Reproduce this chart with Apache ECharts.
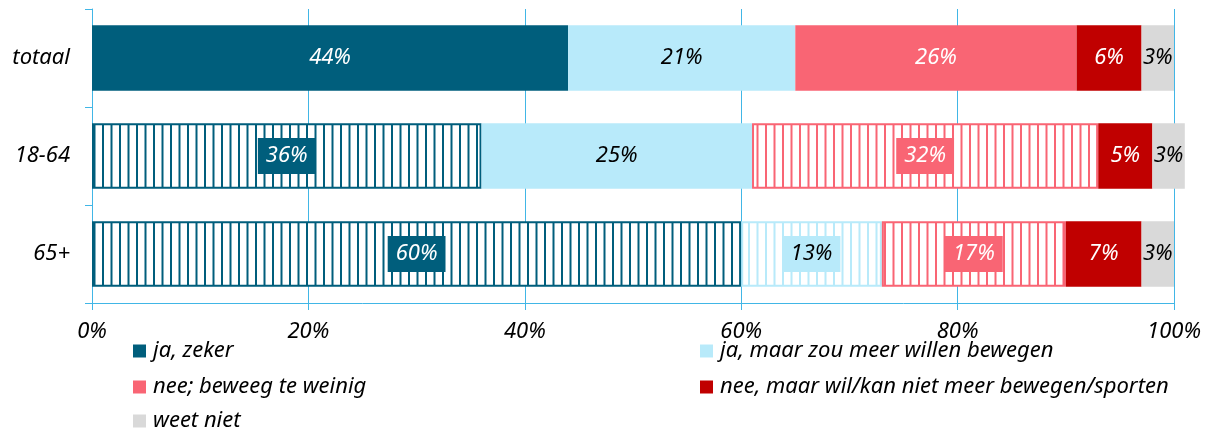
<!DOCTYPE html>
<html>
<head>
<meta charset="utf-8">
<script src="https://cdn.jsdelivr.net/npm/echarts@6/dist/echarts.min.js"></script>
<style>html,body{margin:0;padding:0;background:#fff;}#c{width:1205px;height:435px;}</style>
</head>
<body>
<div id="c"></div>
<script>
const categories = ['totaal', '18-64', '65+'];
const seriesNames = ['ja, zeker', 'ja, maar zou meer willen bewegen', 'nee; beweeg te weinig', 'nee, maar wil/kan niet meer bewegen/sporten', 'weet niet'];
const jaZeker = [44, 36, 60];
const jaMaar = [21, 25, 13];
const neeWeinig = [26, 32, 17];
const neeNiet = [6, 5, 7];
const weetNiet = [3, 3, 3];
// hatched (pattern) marks per series, per category
const hatchJaZeker = [false, true, true];
const hatchJaMaar = [false, false, true];
const hatchNeeWeinig = [false, true, true];
const hatchNeeNiet = [false, false, false];
const hatchWeetNiet = [false, false, false];
const xTicks = [0, 20, 40, 60, 80, 100];

const colors = ['#005E7C', '#B8EAFA', '#F96574', '#C00000', '#D9D9D9'];
const labelColors = ['#fff', '#000', '#fff', '#fff', '#000'];
const FONT = 'Noto Sans';
const FS = 22;

function stripes(color) {
  const c = document.createElement('canvas');
  c.width = 17; c.height = 10;
  const g = c.getContext('2d');
  g.fillStyle = '#fff'; g.fillRect(0, 0, 17, 10);
  g.fillStyle = color;
  g.fillRect(0, 0, 2, 10);
  g.fillRect(8.5, 0, 2, 10);
  return { image: c, repeat: 'repeat' };
}

const allValues = [jaZeker, jaMaar, neeWeinig, neeNiet, weetNiet];
const allHatch = [hatchJaZeker, hatchJaMaar, hatchNeeWeinig, hatchNeeNiet, hatchWeetNiet];

const series = allValues.map((vals, si) => ({
  name: seriesNames[si],
  type: 'bar',
  stack: 'total',
  barCategoryGap: '33%',
  clip: false,
  itemStyle: { color: colors[si] },
  label: {
    show: true, position: 'inside', formatter: '{c}%',
    color: labelColors[si], fontFamily: FONT, fontStyle: 'italic', fontSize: FS
  },
  data: vals.map((v, ci) => allHatch[si][ci] ? {
    value: v,
    itemStyle: { color: stripes(colors[si]), borderColor: colors[si], borderWidth: 2 },
    label: { backgroundColor: colors[si], padding: [8, 8, 6, 8] }
  } : { value: v })
}));

const legendTop = [340, 376, 410];
const legendLeft = [133, 700];
const legends = seriesNames.map((n, i) => ({
  data: [n], left: legendLeft[i % 2], top: legendTop[Math.floor(i / 2)],
  itemWidth: 13, itemHeight: 13, itemGap: 5, icon: 'rect', padding: 0,
  textStyle: { color: '#000', fontFamily: FONT, fontStyle: 'italic', fontSize: FS, padding: [0, 0, 0, 2] }
}));

const chart = echarts.init(document.getElementById('c'), null, { renderer: 'canvas' });
const axisColor = '#41B6E6';
chart.setOption({
  animation: false,
  grid: { left: 92, right: 31, top: 9, bottom: 132, containLabel: false },
  xAxis: {
    type: 'value', min: 0, max: 100, interval: 20,
    axisLine: { show: true, lineStyle: { color: axisColor, width: 1 } },
    axisTick: { show: true, length: 7, lineStyle: { color: axisColor } },
    splitLine: { show: true, lineStyle: { color: axisColor, width: 1 } },
    axisLabel: { formatter: v => xTicks.includes(v) ? v + '%' : '', color: '#000', fontFamily: FONT, fontStyle: 'italic', fontSize: FS, margin: 18 }
  },
  yAxis: {
    type: 'category', data: categories, inverse: true,
    axisLine: { show: true, lineStyle: { color: axisColor, width: 1 } },
    axisTick: { show: true, length: 7, lineStyle: { color: axisColor } },
    axisLabel: { color: '#000', fontFamily: FONT, fontStyle: 'italic', fontSize: FS, margin: 22 }
  },
  legend: legends,
  series: series
});
</script>
</body>
</html>
